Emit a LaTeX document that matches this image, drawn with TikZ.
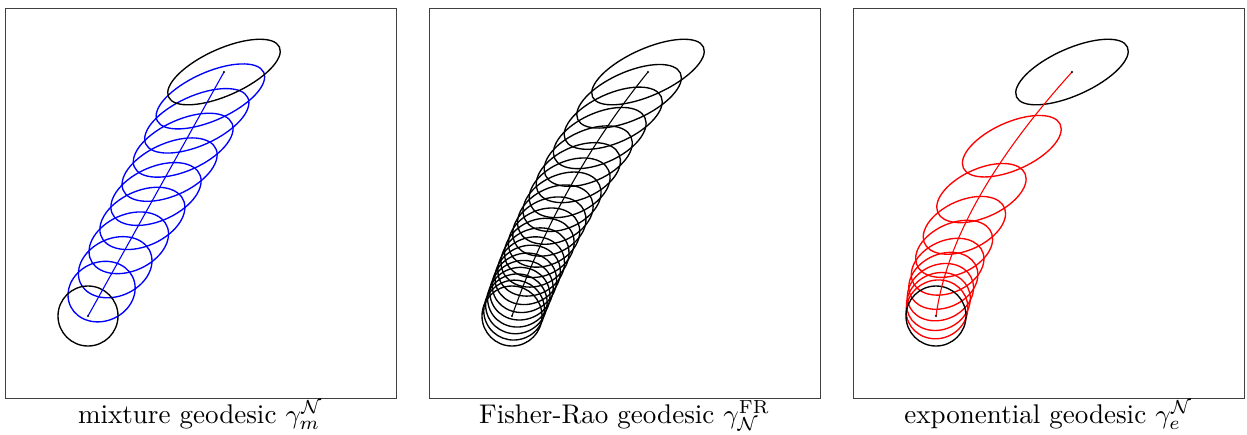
\documentclass[tikz,border=0pt]{standalone}
\usepackage{amsmath}
\usetikzlibrary{positioning, calc}

% covariance ellipse of [[#2,#3],[#3,#4]] centred at (#5,#6)
\newcommand{\gaussell}[6]{%
  \pgfmathsetmacro{\chA}{sqrt(#2)}%
  \pgfmathsetmacro{\chB}{(#3)/\chA}%
  \pgfmathsetmacro{\chC}{sqrt((#4)-\chB*\chB)}%
  \draw[#1, cm={\chA,\chB,0,\chC,(#5,#6)}] (0,0) circle (1);}

\tikzset{
  panel/.style={draw=black!75, line width=0.3pt, inner sep=0pt, outer sep=0pt,
                minimum width=144.67pt, minimum height=144.3pt},
  caption/.style={anchor=base, inner sep=0pt, font=\normalsize},
  endell/.style={black, line width=0.5pt},
  mixell/.style={blue, line width=0.5pt},
  frell/.style={black, line width=0.5pt},
  expell/.style={red, line width=0.5pt},
  meanline/.style={line width=0.4pt},
  meandot/.style={fill=black, draw=none},
  gauss/.style={x=11.1pt, y=11.1pt}
}

\begin{document}
\begin{tikzpicture}[x=0.37pt, y=0.37pt]
  \useasboundingbox (0,0) rectangle (1247,434);

  % frames and captions
  \node[panel] (p1) at (200.5,231) {};
  \node[panel] (p2) at (624.5,231) {};
  \node[panel] (p3) at (1048.5,231) {};
  \node[caption] (c1) at ([yshift=-9.25pt]p1.south) {mixture geodesic $\gamma_m^{\mathcal{N}}$};
  \node[caption] (c2) at ([yshift=-9.25pt]p2.south) {Fisher-Rao geodesic $\gamma_{\mathcal{N}}^{\mathrm{FR}}$};
  \node[caption] (c3) at ([yshift=-9.25pt]p3.south) {exponential geodesic $\gamma_e^{\mathcal{N}}$};

  % mixture geodesic
  \begin{scope}[shift={(88,118)}, gauss]
    \coordinate (m1s) at (0,0);
    \coordinate (m1e) at (4.533,8.133);
    \foreach \k in {1,...,9}{
      \pgfmathsetmacro{\tval}{\k/10}
      \gaussell{mixell}{1-\tval+3.522*\tval}{1.311*\tval}{1-\tval+1.194*\tval}{4.533*\tval}{8.133*\tval}
    }
    \draw[endell] (m1s) circle (1);
    \draw[endell, rotate around={24.2:(m1e)}] (m1e) ellipse [x radius=2.0276, y radius=0.7778];
    \draw[meanline, blue] (m1s) -- (m1e);
    \fill[meandot] (m1s) circle (0.035) (m1e) circle (0.035);
  \end{scope}

  % Fisher-Rao geodesic
  \begin{scope}[shift={(512,118)}, gauss]
    \coordinate (m2s) at (0,0);
    \coordinate (m2e) at (4.533,8.133);
    \foreach \k in {1,...,19}{
      \pgfmathsetmacro{\tval}{\k/20}
      \pgfmathsetmacro{\sval}{\tval*0.43/(1-\tval+0.43*\tval)}
      \pgfmathsetmacro{\mx}{2*\sval*(1-\sval)*1.567+\sval*\sval*4.533}
      \pgfmathsetmacro{\my}{2*\sval*(1-\sval)*4.467+\sval*\sval*8.133}
      \pgfmathsetmacro{\rx}{2.0276^\sval}
      \pgfmathsetmacro{\ry}{0.7778^\sval}
      \draw[frell, rotate around={24.2:(\mx,\my)}] (\mx,\my) ellipse [x radius=\rx, y radius=\ry];
    }
    \draw[endell] (m2s) circle (1);
    \draw[endell, rotate around={24.2:(m2e)}] (m2e) ellipse [x radius=2.0276, y radius=0.7778];
    \draw[meanline] (m2s) .. controls (1.044,2.978) and (2.556,5.689) .. (m2e);
    \fill[meandot] (m2s) circle (0.035) (m2e) circle (0.035);
  \end{scope}

  % exponential geodesic
  \begin{scope}[shift={(936,118)}, gauss]
    \coordinate (m3s) at (0,0);
    \coordinate (m3e) at (4.533,8.133);
    \foreach \k in {1,...,9}{
      \pgfmathsetmacro{\tval}{\k/10}
      \pgfmathsetmacro{\pa}{1-\tval+0.4803*\tval}
      \pgfmathsetmacro{\pbp}{0.5274*\tval}
      \pgfmathsetmacro{\pc}{1-\tval+1.4167*\tval}
      \pgfmathsetmacro{\pdet}{\pa*\pc-\pbp*\pbp}
      \pgfmathsetmacro{\sval}{\tval*0.28/(1-\tval+0.28*\tval)}
      \pgfmathsetmacro{\mx}{2*\sval*(1-\sval)*0.5+\sval*\sval*4.533}
      \pgfmathsetmacro{\my}{2*\sval*(1-\sval)*3.667+\sval*\sval*8.133}
      \gaussell{expell}{\pc/\pdet}{\pbp/\pdet}{\pa/\pdet}{\mx}{\my}
    }
    \draw[endell] (m3s) circle (1);
    \draw[endell, rotate around={24.2:(m3e)}] (m3e) ellipse [x radius=2.0276, y radius=0.7778];
    \draw[meanline, red] (m3s) .. controls (0.333,2.444) and (1.844,5.156) .. (m3e);
    \fill[meandot] (m3s) circle (0.035) (m3e) circle (0.035);
  \end{scope}
\end{tikzpicture}
\end{document}
